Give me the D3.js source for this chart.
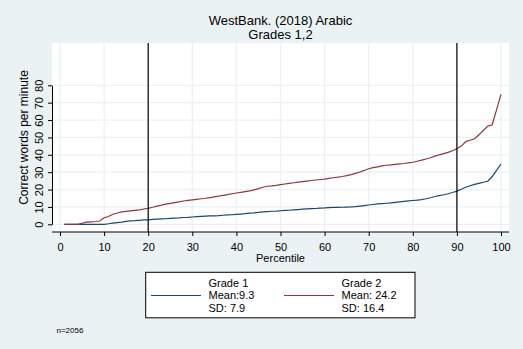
<!DOCTYPE html>
<html><head><meta charset="utf-8">
<script src="https://cdn.jsdelivr.net/npm/d3@7"></script>
<style>
html,body{margin:0;padding:0;background:#eaf2f3;}
svg{display:block;font-family:"Liberation Sans",Arial,sans-serif;}
</style></head>
<body>
<svg id="chart" width="523" height="349"></svg>
<script>
const percentiles = d3.range(1, 101);
const grade1 = [
0,0,0,0,0,0,0,0,0,0,
0.3,0.7,1.0,1.3,1.7,2.0,2.1,2.3,2.5,2.6,
2.8,3.0,3.1,3.2,3.4,3.6,3.7,3.9,4.0,4.2,
4.4,4.6,4.7,4.8,4.9,5.0,5.2,5.4,5.5,5.7,
5.9,6.1,6.4,6.6,6.9,7.1,7.3,7.5,7.6,7.8,
8.0,8.1,8.3,8.5,8.7,8.9,9.0,9.1,9.3,9.4,
9.6,9.7,9.7,9.8,9.9,10.0,10.2,10.5,10.8,11.1,
11.4,11.7,11.9,12.1,12.3,12.6,12.9,13.2,13.5,13.7,
13.9,14.2,14.7,15.3,16.0,16.5,17.0,17.6,18.3,19.1,
20.2,21.3,22.2,23.0,23.6,24.2,24.8,27.5,31.0,34.7];
const grade2 = [
0,0,0,0,0.6,1.2,1.4,1.6,1.9,3.8,
4.5,5.8,6.5,7.1,7.4,7.7,8.0,8.3,8.8,9.2,
9.8,10.5,11.0,11.6,12.0,12.5,12.9,13.4,13.8,14.1,
14.4,14.7,15.0,15.4,15.8,16.2,16.7,17.1,17.6,18.0,
18.4,18.8,19.2,19.8,20.5,21.3,21.9,22.1,22.4,22.8,
23.2,23.6,23.9,24.3,24.6,24.9,25.2,25.5,25.8,26.0,
26.4,26.8,27.1,27.5,28.0,28.6,29.3,30.1,31.0,32.0,
32.6,33.1,33.6,34.0,34.2,34.5,34.8,35.0,35.3,35.7,
36.3,36.9,37.6,38.3,39.2,40.0,40.7,41.4,42.3,43.5,
45.0,47.6,48.4,49.2,51.5,54.0,56.5,57.3,66.0,74.8];
const xTicks = [0,10,20,30,40,50,60,70,80,90,100];
const yTicks = [0,10,20,30,40,50,60,70,80];
const refLines = [20, 90];
const seriesNames = ["Grade 1", "Grade 2"];
const seriesMeans = ["Mean:9.3", "Mean: 24.2"];
const seriesSDs = ["SD: 7.9", "SD: 16.4"];
const titleLines = ["WestBank. (2018) Arabic", "Grades 1,2"];
const yTitle = "Correct words per minute";
const xTitle = "Percentile";
const note = "n=2056";

const bg = "#eaf2f3", navy = "#1a476f", maroon = "#90353b";
const svg = d3.select("#chart");
svg.append("rect").attr("width",523).attr("height",349).attr("fill",bg);

const plot = {left:52, right:509, top:43, bottom:232};
const x = d3.scaleLinear().domain([0,100]).range([60,501]);
const y = d3.scaleLinear().domain([0,80]).range([224.3,85.3]);

svg.append("rect").attr("x",plot.left).attr("y",plot.top)
  .attr("width",plot.right-plot.left).attr("height",plot.bottom-plot.top).attr("fill","#ffffff");

// gridlines
svg.append("g").selectAll("line").data(xTicks).join("line")
  .attr("x1",d=>x(d)).attr("x2",d=>x(d)).attr("y1",plot.top).attr("y2",plot.bottom)
  .attr("stroke",bg).attr("stroke-width",1.3);
svg.append("g").selectAll("line").data(yTicks).join("line")
  .attr("x1",plot.left).attr("x2",plot.right).attr("y1",d=>y(d)).attr("y2",d=>y(d))
  .attr("stroke",bg).attr("stroke-width",1.3);

// lines
const line = d3.line().x((d,i)=>x(percentiles[i])).y(d=>y(d));
svg.append("path").datum(grade1).attr("d",line).attr("fill","none").attr("stroke",navy).attr("stroke-width",1.2);
svg.append("path").datum(grade2).attr("d",line).attr("fill","none").attr("stroke",maroon).attr("stroke-width",1.2);

// reference lines
svg.append("g").selectAll("line").data(refLines).join("line")
  .attr("x1",d=>x(d)).attr("x2",d=>x(d)).attr("y1",plot.top).attr("y2",plot.bottom)
  .attr("stroke","#000").attr("stroke-width",1.2);

// x axis
const xAxis = d3.axisBottom(x).tickValues(xTicks).tickSize(4).tickPadding(6).tickSizeOuter(0);
const gx = svg.append("g").attr("transform",`translate(0,${plot.bottom})`).call(xAxis);
gx.select(".domain").remove();
gx.append("line").attr("x1",plot.left).attr("x2",plot.right).attr("stroke","#000").attr("stroke-width",1);
gx.selectAll(".tick line").attr("stroke","#000");
gx.selectAll(".tick text").attr("font-size",11).attr("fill","#000")
  .attr("font-family","Liberation Sans, Arial, sans-serif").attr("dy",null).attr("y",18.5);

// y axis
const yAxis = d3.axisLeft(y).tickValues(yTicks).tickSize(4).tickSizeOuter(0);
const gy = svg.append("g").attr("transform",`translate(${plot.left},0)`).call(yAxis);
gy.select(".domain").attr("stroke","#000");
gy.selectAll(".tick line").attr("stroke","#000");
gy.selectAll(".tick text").attr("font-size",11).attr("fill","#000")
  .attr("font-family","Liberation Sans, Arial, sans-serif")
  .attr("x",null).attr("dy",null).attr("text-anchor","middle")
  .attr("transform","translate(-9.5,0) rotate(-90)");

// titles
const cx = (plot.left+plot.right)/2;
svg.append("text").attr("x",cx).attr("y",25).attr("text-anchor","middle").attr("font-size",13).text(titleLines[0]);
svg.append("text").attr("x",cx).attr("y",39).attr("text-anchor","middle").attr("font-size",13).text(titleLines[1]);
svg.append("text").attr("transform",`translate(27.7,${(plot.top+plot.bottom)/2}) rotate(-90)`)
  .attr("text-anchor","middle").attr("font-size",12).text(yTitle);
svg.append("text").attr("x",x(50)).attr("y",262).attr("text-anchor","middle").attr("font-size",11).text(xTitle);

// legend
const lg = svg.append("g");
lg.append("rect").attr("x",145.7).attr("y",272.3).attr("width",269.3).attr("height",45.5)
  .attr("fill","#fff").attr("stroke","#000").attr("stroke-width",1);
const legX = [151, 284];
const colors = [navy, maroon];
seriesNames.forEach((n,i)=>{
  lg.append("line").attr("x1",legX[i]).attr("x2",legX[i]+50).attr("y1",295.5).attr("y2",295.5)
    .attr("stroke",colors[i]).attr("stroke-width",1.2);
  const tx = legX[i]+57.5;
  [n, seriesMeans[i], seriesSDs[i]].forEach((t,j)=>{
    lg.append("text").attr("x",tx).attr("y",286.7+j*12.5).attr("font-size",11).text(t);
  });
});

svg.append("text").attr("x",56.5).attr("y",333).attr("font-size",8).text(note);
</script>
</body></html>
